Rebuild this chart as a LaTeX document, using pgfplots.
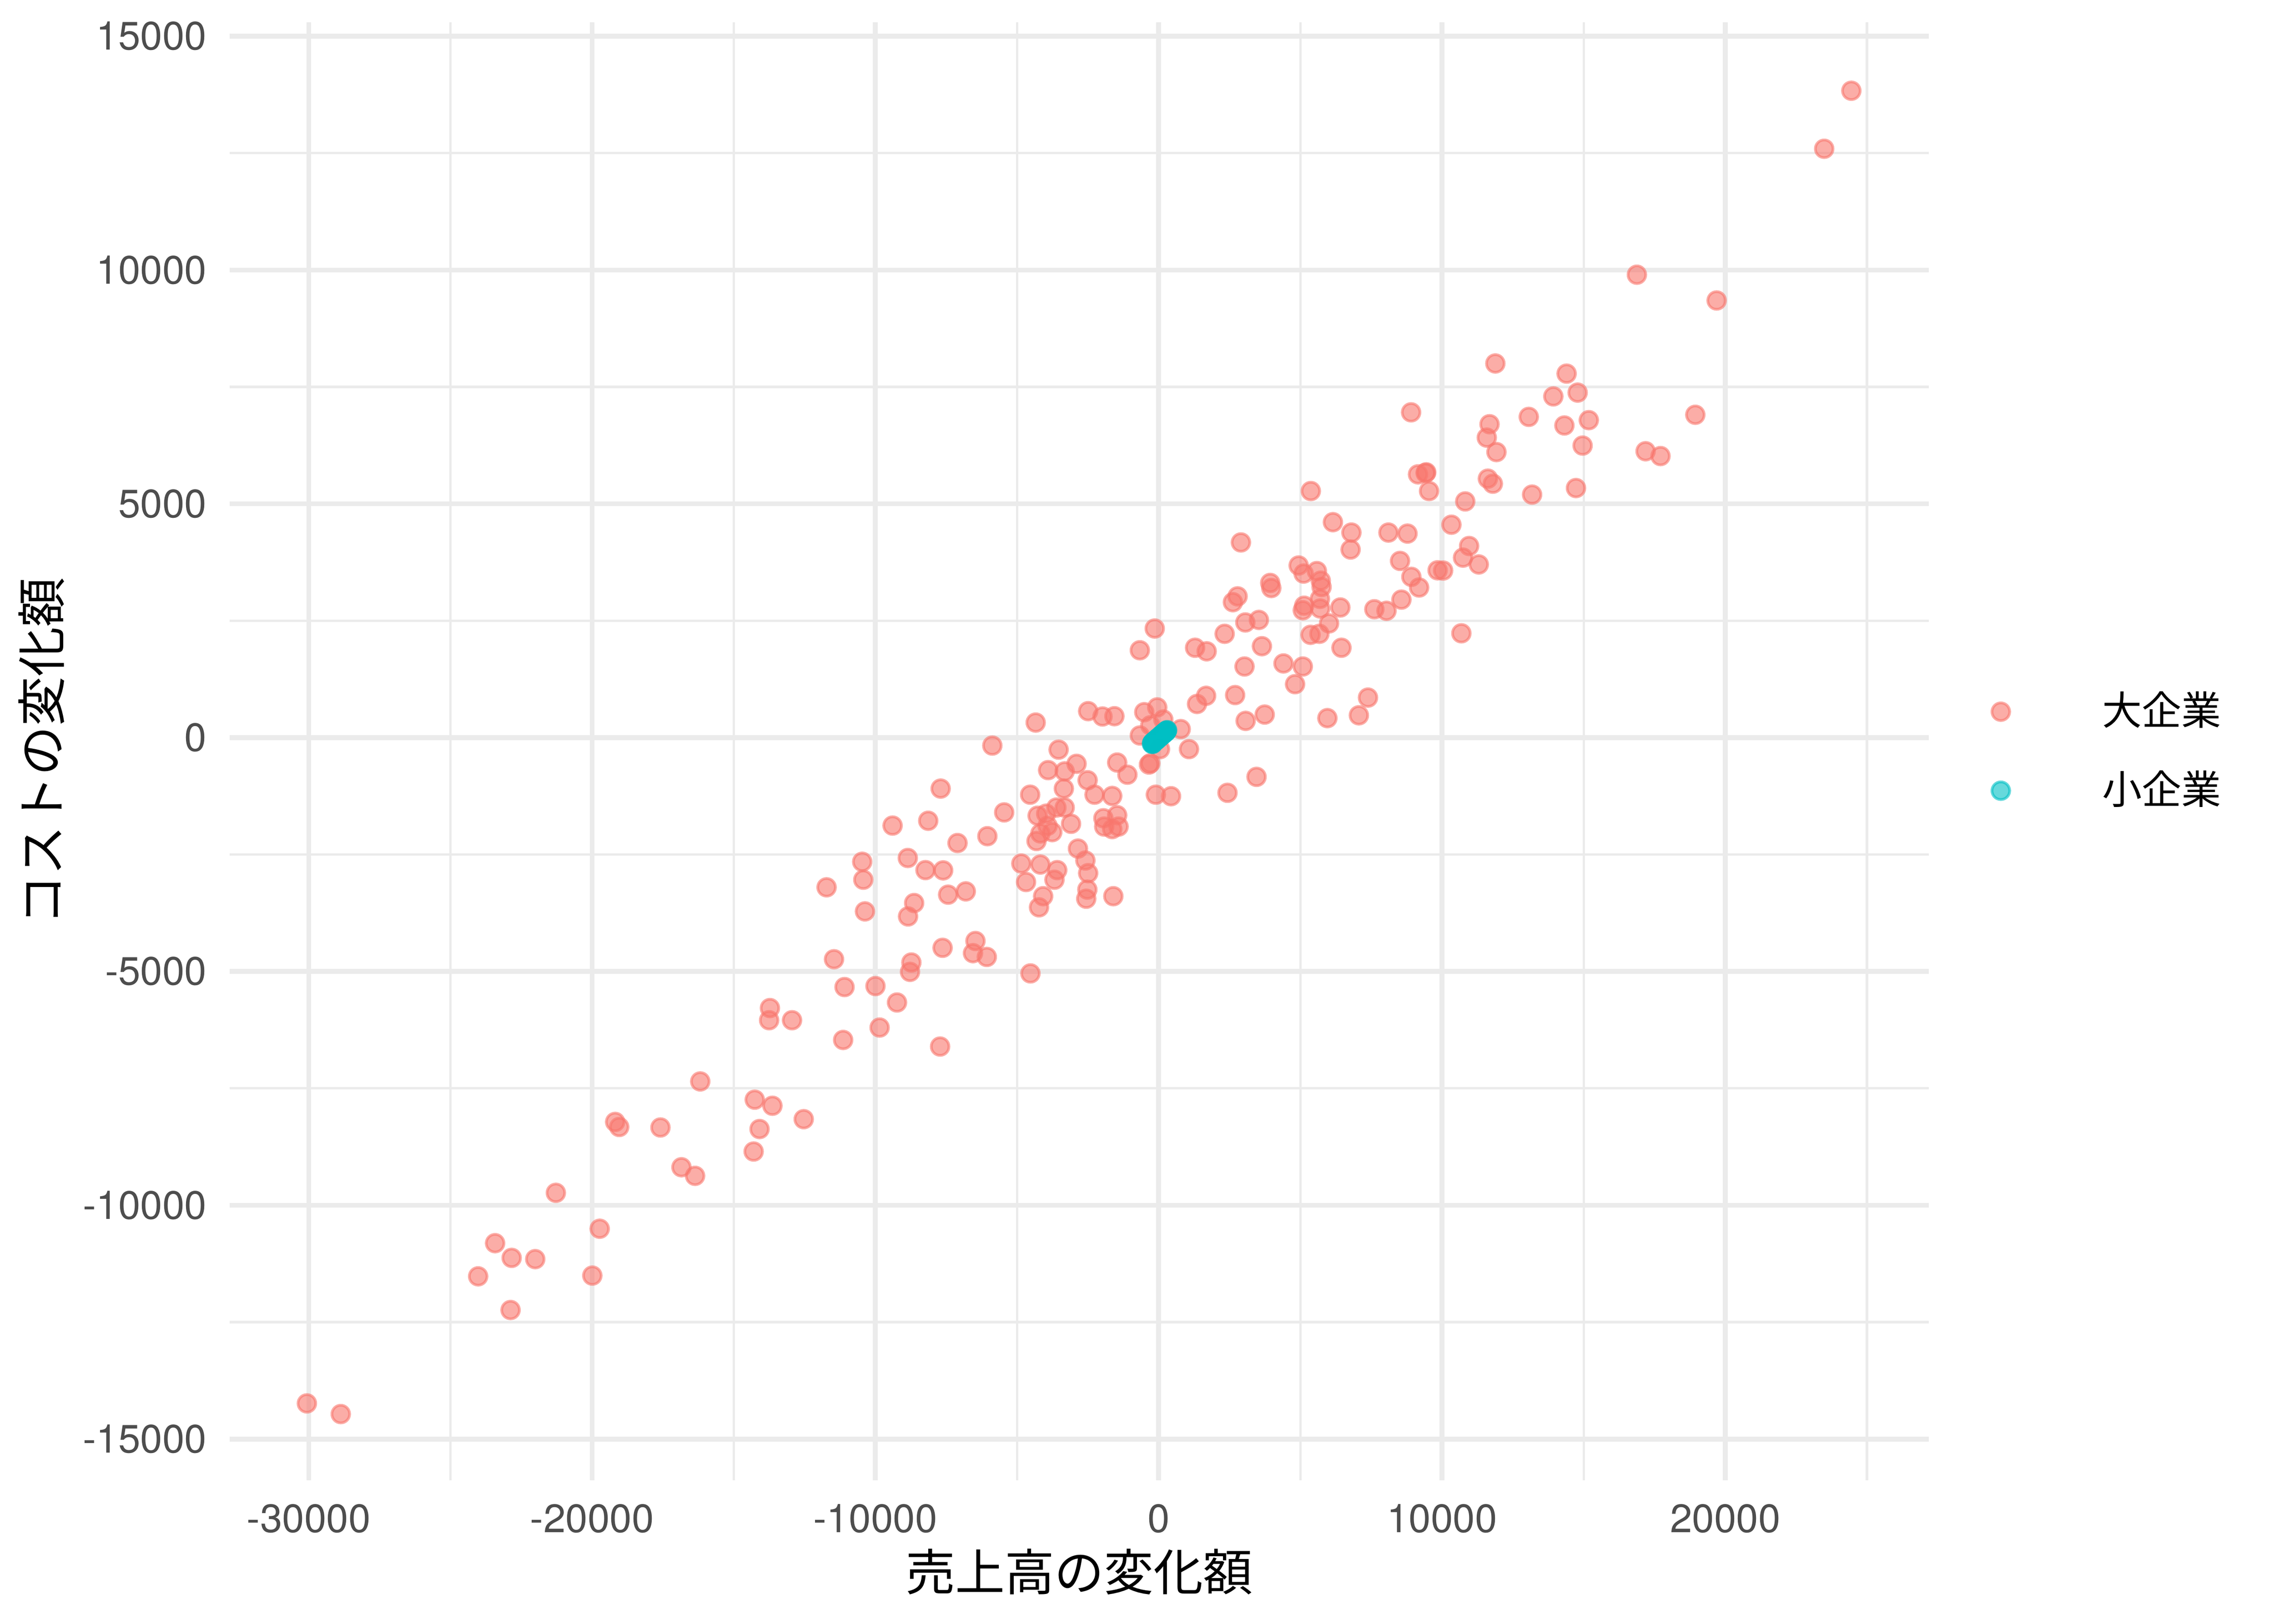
\documentclass[border=0pt]{standalone}
\usepackage{fontspec}
\setmainfont{TeX Gyre Heros}
\newfontfamily\cjk{Noto Sans CJK JP}
\usepackage{pgfplots}
\pgfplotsset{compat=1.18}
\definecolor{big}{HTML}{F8766D}
\definecolor{small}{HTML}{00BFC4}
\definecolor{gridc}{HTML}{EBEBEB}
\definecolor{tickc}{HTML}{4D4D4D}
\pgfplotsset{onemark/.style={legend image code/.code={\draw[##1] plot coordinates {(0pt,0pt)};}}}
\begin{document}
\begin{tikzpicture}
\path[use as bounding box] (-50.9pt,-31.8pt) rectangle (453.1pt,328.2pt);
\begin{axis}[
  width=376.6pt, height=323.3pt, scale only axis,
  xmin=-32792, xmax=27182, ymin=-15882, ymax=15301,
  scaled ticks=false,
  axis line style={draw=none},
  major tick length=0pt, minor tick length=0pt,
  xtick={-30000,-20000,-10000,0,10000,20000},
  xticklabels={-30000,-20000,-10000,0,10000,20000},
  ytick={-15000,-10000,-5000,0,5000,10000,15000},
  yticklabels={-15000,-10000,-5000,0,5000,10000,15000},
  minor xtick={-25000,-15000,-5000,5000,15000,25000},
  minor ytick={-12500,-7500,-2500,2500,7500,12500},
  grid=both,
  major grid style={draw=gridc, line width=1.07pt},
  minor grid style={draw=gridc, line width=0.53pt},
  tick label style={font=\fontsize{8.8}{10}\selectfont, text=tickc, inner sep=0pt},
  xticklabel style={anchor=north, yshift=-5.1pt},
  yticklabel style={anchor=east, xshift=-4.9pt},
  xlabel={\fontsize{11}{13}\selectfont\cjk 売上高の変化額},
  ylabel={\fontsize{11}{13}\selectfont\cjk コストの変化額},
  every axis x label/.style={at={(axis description cs:0.5,0)}, anchor=center, yshift=-20.3pt, text=black},
  every axis y label/.style={at={(axis description cs:0,0.5)}, anchor=center, rotate=90, yshift=41.7pt, text=black},
  legend style={at={(axis description cs:1,0.5)}, anchor=west, xshift=14pt,
    draw=none, fill=none, inner sep=0pt, outer sep=0pt,
    row sep=8.6pt, column sep=20.5pt,
    font=\cjk\fontsize{8.8}{10}\selectfont,
    nodes={inner sep=0pt, outer sep=0pt}},
  legend cell align=left,
]
\addplot[only marks, mark=*, mark size=1.96pt,
  mark options={draw=big, fill=big, draw opacity=0.6, fill opacity=0.6, line width=0.61pt},
  onemark]
table {
x y
-2490 566
-1983 452
-1563 458
-4342 322
-510 544
-52 647
162 387
-296 263
-666 46
777 182
45 -246
1069 -246
-345 -576
-296 -549
-101 -1220
435 -1253
-1466 -533
-1105 -793
-3533 -257
-2899 -560
-3903 -695
-3318 -722
-2509 -912
-3348 -1090
-2265 -1220
-1641 -1247
-4537 -1220
-5873 -170
-7696 -1090
-5454 -1599
-8135 -1778
-9393 -1881
-7101 -2254
-6048 -2108
-3611 -1496
-3318 -1496
-3972 -1626
-4274 -1670
-3094 -1843
-3923 -1886
-3757 -2021
-4176 -2049
-4313 -2211
-1953 -1724
-1466 -1659
-1924 -1902
-1641 -1956
-1417 -1902
-2850 -2373
-2587 -2628
-2490 -2898
-2519 -3250
-2558 -3445
-1602 -3391
-4849 -2693
-4176 -2714
-3582 -2833
-4683 -3088
-3679 -3039
-4079 -3391
-4225 -3629
-10465 -2655
-10426 -3039
-11723 -3201
-8856 -2574
-8232 -2833
-7608 -2839
-7433 -3358
-6809 -3288
-8632 -3537
-8847 -3824
-10368 -3716
-6468 -4349
-6555 -4609
-6068 -4690
-7628 -4495
-4527 -5042
-11460 -4739
-8730 -4809
-8778 -5009
-11089 -5334
-9997 -5313
-9237 -5664
-13722 -5783
-13751 -6043
-12942 -6043
-9851 -6200
-11138 -6465
-7716 -6606
11882 8001
14397 7784
13929 7297
14787 7378
8908 6956
13062 6859
14319 6675
11677 6702
11580 6415
11921 6106
9152 5630
9444 5673
9420 5660
9542 5273
11619 5538
11794 5430
13179 5197
14728 5337
5369 5273
10819 5051
10332 4553
6149 4607
6802 4385
6773 4022
8109 4385
8781 4363
2902 4174
10956 4098
10741 3849
11297 3703
8518 3779
9844 3578
10039 3573
8918 3438
9191 3210
8567 2951
7611 2745
8040 2712
6412 2783
10683 2231
4940 3681
5115 3508
5583 3562
5720 3357
5749 3221
5691 2967
5135 2821
5086 2723
5700 2761
6012 2442
5359 2198
5671 2220
6451 1922
3936 3308
3975 3199
2785 3021
2619 2896
3058 2463
3536 2517
2327 2220
-140 2333
-666 1868
1284 1922
1693 1846
3643 1955
3029 1521
4404 1586
5086 1521
4813 1143
1674 894
1352 720
2697 910
3068 358
3741 493
5954 417
7065 477
7387 856
2428 -1180
3453 -839
15181 6789
14962 6245
17185 6124
17712 6021
18940 6904
19693 9348
16878 9899
23489 12592
24447 13833
-16182 -7352
-14258 -7742
-13634 -7872
-12529 -8159
-14089 -8370
-14297 -8851
-19185 -8218
-19042 -8326
-17586 -8337
-16845 -9187
-16364 -9371
-21278 -9734
-19731 -10502
-23423 -10811
-22838 -11125
-22006 -11152
-24021 -11520
-19991 -11504
-22877 -12240
-30066 -14237
-28870 -14465
};
\addlegendentry{大企業}
\addplot[only marks, mark=*, mark size=1.96pt,
  mark options={draw=small, fill=small, draw opacity=0.6, fill opacity=0.6, line width=0.61pt},
  onemark]
table {
x y
-240 -130
-225 -115
-210 -118
-200 -100
-190 -108
-180 -92
-170 -95
-160 -80
-150 -86
-140 -70
-130 -75
-120 -60
-110 -66
-100 -50
-95 -58
-85 -42
-75 -45
-65 -30
-55 -36
-45 -20
-40 -28
-30 -12
-20 -15
-10 -2
0 -8
5 5
15 0
25 15
35 12
45 28
55 22
65 36
75 33
85 48
95 42
105 58
115 55
125 70
135 64
145 80
155 76
165 90
175 84
185 100
195 95
205 110
215 105
225 120
235 116
245 130
255 126
265 140
275 136
285 152
298 159
-60 -40
20 5
100 50
-150 -75
180 95
-215 -135
-120 -72
-35 -22
60 30
140 72
240 125
};
\addlegendentry{小企業}
\end{axis}
\end{tikzpicture}
\end{document}
